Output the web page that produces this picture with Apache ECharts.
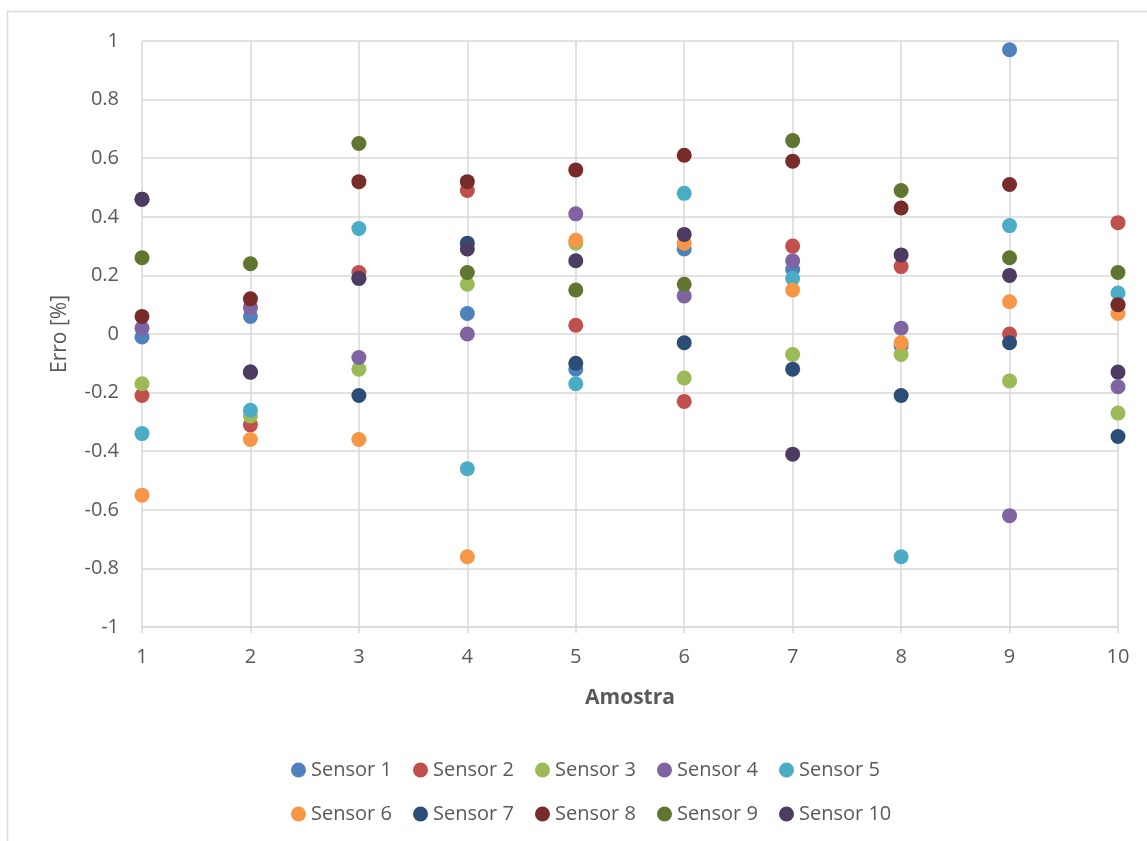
<!DOCTYPE html>
<html>
<head>
<meta charset="utf-8">
<title>Erro por amostra</title>
<script src="https://cdn.jsdelivr.net/npm/echarts@6/dist/echarts.min.js"></script>
<style>
  html, body { margin: 0; padding: 0; background: #ffffff; }
  #chart { width: 1147px; height: 841px; }
</style>
</head>
<body>
<div id="chart"></div>
<script>
// Sample numbers (x axis)
const amostras = [1, 2, 3, 4, 5, 6, 7, 8, 9, 10];

// Error (%) of each sensor for every sample
const sensor1  = [-0.01, 0.06, 0.19, 0.07, -0.12, 0.29, 0.22, -0.04, 0.97, 0.10];
const sensor2  = [-0.21, -0.31, 0.21, 0.49, 0.03, -0.23, 0.30, 0.23, 0.00, 0.38];
const sensor3  = [-0.17, -0.28, -0.12, 0.17, 0.31, -0.15, -0.07, -0.07, -0.16, -0.27];
const sensor4  = [0.02, 0.09, -0.08, 0.00, 0.41, 0.13, 0.25, 0.02, -0.62, -0.18];
const sensor5  = [-0.34, -0.26, 0.36, -0.46, -0.17, 0.48, 0.19, -0.76, 0.37, 0.14];
const sensor6  = [-0.55, -0.36, -0.36, -0.76, 0.32, 0.31, 0.15, -0.03, 0.11, 0.07];
const sensor7  = [0.46, -0.13, -0.21, 0.31, -0.10, -0.03, -0.12, -0.21, -0.03, -0.35];
const sensor8  = [0.06, 0.12, 0.52, 0.52, 0.56, 0.61, 0.59, 0.43, 0.51, 0.10];
const sensor9  = [0.26, 0.24, 0.65, 0.21, 0.15, 0.17, 0.66, 0.49, 0.26, 0.21];
const sensor10 = [0.46, -0.13, 0.19, 0.29, 0.25, 0.34, -0.41, 0.27, 0.20, -0.13];

const sensorNames = ['Sensor 1', 'Sensor 2', 'Sensor 3', 'Sensor 4', 'Sensor 5',
                     'Sensor 6', 'Sensor 7', 'Sensor 8', 'Sensor 9', 'Sensor 10'];
const sensorValues = [sensor1, sensor2, sensor3, sensor4, sensor5,
                      sensor6, sensor7, sensor8, sensor9, sensor10];
const sensorColors = ['#4F81BD', '#C0504D', '#9BBB59', '#8064A2', '#4BACC6',
                      '#F79646', '#2C4D75', '#772C2A', '#5F7530', '#4D3B62'];

const FONT = '"Open Sans", "Liberation Sans", sans-serif';
const TEXT = '#595959';
const GRID = '#d9d9d9';

const series = sensorNames.map((name, s) => ({
  name: name,
  type: 'scatter',
  symbol: 'circle',
  symbolSize: 15,
  itemStyle: { color: sensorColors[s], opacity: 1 },
  emphasis: { disabled: true },
  data: amostras.map((x, i) => [x, sensorValues[s][i]])
}));

const legendBase = {
  orient: 'horizontal',
  left: 286,
  icon: 'circle',
  itemWidth: 15,
  itemHeight: 15,
  itemGap: 20,
  selectedMode: false,
  textStyle: { color: TEXT, fontFamily: FONT, fontSize: 20, width: 82, lineHeight: 20 }
};

const chart = echarts.init(document.getElementById('chart'), null, { renderer: 'canvas' });
chart.setOption({
  animation: false,
  backgroundColor: '#ffffff',
  textStyle: { fontFamily: FONT },
  graphic: [{
    type: 'rect',
    shape: { x: 7.5, y: 11.5, width: 1300, height: 1000 },
    style: { fill: 'none', stroke: GRID, lineWidth: 1.5 },
    silent: true,
    z: -10
  }],
  grid: { left: 142, right: 29, top: 41, bottom: 214, containLabel: false },
  xAxis: {
    type: 'value',
    min: 1,
    max: 10,
    interval: 1,
    name: 'Amostra',
    nameLocation: 'middle',
    nameGap: 61,
    nameTextStyle: { color: TEXT, fontFamily: FONT, fontSize: 21, fontWeight: 'bold' },
    axisLine: { show: true, onZero: false, lineStyle: { color: GRID, width: 1.5 } },
    axisTick: { show: true, length: 6, lineStyle: { color: GRID, width: 1.5 } },
    axisLabel: { color: TEXT, fontFamily: FONT, fontSize: 20, margin: 20 },
    splitLine: { show: true, lineStyle: { color: GRID, width: 1.5 } }
  },
  yAxis: {
    type: 'value',
    min: -1,
    max: 1,
    interval: 0.2,
    name: 'Erro [%]',
    nameLocation: 'middle',
    nameGap: 71,
    nameTextStyle: { color: TEXT, fontFamily: FONT, fontSize: 21 },
    axisLine: { show: false },
    axisTick: { show: false },
    axisLabel: {
      color: TEXT, fontFamily: FONT, fontSize: 20, margin: 23,
      formatter: v => String(Math.round(v * 10) / 10)
    },
    splitLine: { show: true, lineStyle: { color: GRID, width: 1.5 } }
  },
  legend: [
    Object.assign({}, legendBase, { top: 755, data: sensorNames.slice(0, 5) }),
    Object.assign({}, legendBase, { top: 799, data: sensorNames.slice(5) })
  ],
  series: series
});
</script>
</body>
</html>
